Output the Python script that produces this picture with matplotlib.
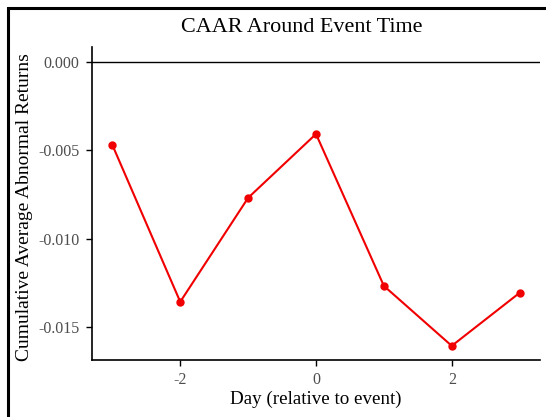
import matplotlib
matplotlib.use("Agg")
import matplotlib.pyplot as plt
from matplotlib.patches import Rectangle

days = [-3, -2, -1, 0, 1, 2, 3]
caar = [-0.00469, -0.01356, -0.00768, -0.00407, -0.01266, -0.01605, -0.01305]
xticks = [-2, 0, 2]
yticks = [0.000, -0.005, -0.010, -0.015]

plt.rcParams['font.family'] = ['Liberation Serif', 'DejaVu Serif']

W, H = 546, 417
fig = plt.figure(figsize=(W / 100, H / 100), dpi=100)
ax = fig.add_axes([92 / W, 1 - 360 / H, (540 - 92) / W, (360 - 47) / H])

ax.axhline(0, color='black', lw=1.0, zorder=1)
ax.plot(days, caar, color='#f00000', lw=1.5, marker='o', markersize=5, zorder=3)

ax.set_xlim(-3.3, 3.3)
ax.set_ylim(-0.01685, 0.00085)
ax.set_xticks(xticks)
ax.set_xticklabels([str(t) for t in xticks])
ax.set_yticks(yticks)
ax.set_yticklabels([f"{t:.3f}" for t in yticks])

for s in ['top', 'right']:
    ax.spines[s].set_visible(False)
for s in ['left', 'bottom']:
    ax.spines[s].set_linewidth(1.2)
ax.tick_params(axis='both', direction='out', length=4, width=1.0, labelsize=11.5,
               labelcolor='#4d4d4d', pad=5)

fig.text(92 / W + (540 - 92) / W / 2, 1 - 399 / H, 'Day (relative to event)',
         ha='center', va='center', fontsize=13.7)
fig.text(25 / W, 1 - 207 / H, 'Cumulative Average Abnormal Returns',
         ha='center', va='center', rotation=90, fontsize=14)
fig.text(302 / W, 1 - 28 / H, 'CAAR Around Event Time',
         ha='center', va='center', fontsize=15.9)

fig.patches.append(Rectangle((8 / W, -0.1), 1.2, 1 - 8 / H + 0.1,
                             transform=fig.transFigure, fill=False,
                             edgecolor='black', lw=2.2, clip_on=False))

fig.savefig('out.png', dpi=100)
